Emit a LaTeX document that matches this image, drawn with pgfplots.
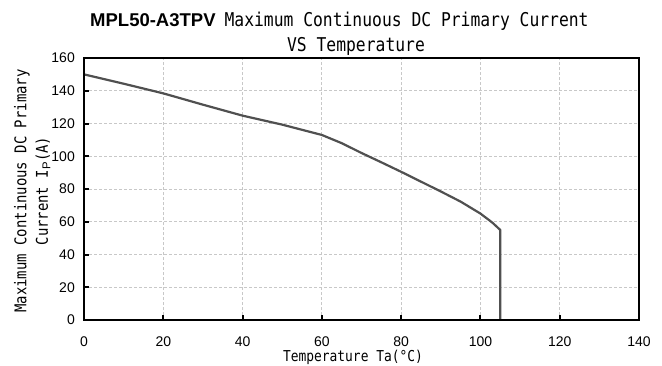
\documentclass[border=0pt]{standalone}
\usepackage{fontspec}
\setmainfont{Liberation Sans}
\newfontfamily\mono[FakeStretch=0.86]{DejaVu Sans Mono}
\usepackage{pgfplots}
\pgfplotsset{compat=1.18}
\definecolor{curve}{RGB}{80,80,80}
\definecolor{gridc}{RGB}{200,200,200}
\begin{document}
\begin{tikzpicture}[x=1pt,y=1pt]
\begin{axis}[
  at={(84pt,45pt)}, anchor=south west,
  scale only axis, width=555pt, height=262pt,
  xmin=0, xmax=140, ymin=0, ymax=160,
  xtick={0,20,...,140}, ytick={0,20,...,160},
  xtick pos=bottom, ytick pos=left,
  tick align=inside,
  major tick length=5pt,
  tick style={line width=2pt, black},
  grid=major,
  major grid style={gridc, line width=0.9pt, dash pattern=on 3pt off 2pt},
  axis line style={line width=1.1pt, black},
  /pgf/number format/assume math mode=true,
  tick label style={font=\fontsize{14}{16}\selectfont, inner sep=0pt},
  xticklabel style={anchor=north, yshift=-17pt},
  yticklabel style={anchor=east, xshift=-9pt},
  clip=false,
]
\addplot[curve, line width=2.2pt, line join=round] coordinates {
  (0,150) (10,144.3) (20,138.4) (30,131.5) (40,124.8) (50,119.3)
  (60,113) (65,108) (70,102) (75,96.3) (80,90.5) (85,84.5)
  (90,78.5) (95,72.3) (100,65) (103,59.5) (105,55) (105,0)
};
\draw[line width=2.5pt, black] (rel axis cs:0,1) -- (rel axis cs:0,0) -- (rel axis cs:1,0);
\end{axis}
\node[anchor=base west, inner sep=0pt] at (90,338)
  {\fontsize{18.5}{20}\selectfont\bfseries MPL50-A3TPV\hspace{9pt}{\mono\mdseries\fontsize{19}{21}\selectfont Maximum Continuous DC Primary Current}};
\node[anchor=base, inner sep=0pt] at (356,313)
  {\mono\fontsize{19}{21}\selectfont VS Temperature};
\node[rotate=90, inner sep=0pt] at (22,174)
  {\mono\fontsize{16.2}{18}\selectfont Maximum Continuous DC Primary};
\node[rotate=90, inner sep=0pt] at (43,174)
  {\mono\fontsize{16.2}{18}\selectfont Current I$_{\mathrm{P}}$(A)};
\node[anchor=base, inner sep=0pt] at (353,4)
  {\mono\fontsize{15}{17}\selectfont Temperature Ta(°C)};
\pgfresetboundingbox
\path (0,0) rectangle (662,365);
\end{tikzpicture}
\end{document}
